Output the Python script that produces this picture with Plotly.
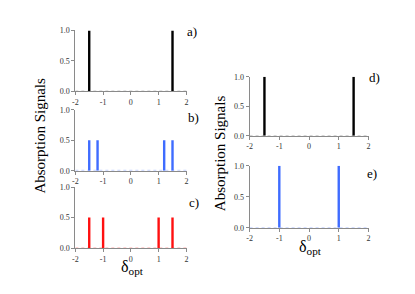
import plotly.graph_objects as go

# data
a_pos = [-1.5, 1.5]; a_h = [1.0, 1.0]
b_pos = [-1.5, -1.2, 1.2, 1.5]; b_h = [0.5, 0.5, 0.5, 0.5]
c_pos = [-1.5, -1.0, 1.0, 1.5]; c_h = [0.5, 0.5, 0.5, 0.5]
d_pos = [-1.5, 1.5]; d_h = [1.0, 1.0]
e_pos = [-1.0, 1.0]; e_h = [1.0, 1.0]
x_ticks = [-2, -1, 0, 1, 2]
y_ticks = [0.0, 0.5, 1.0]

OFF = 8  # page body margin
W, H = 415 - 2 * OFF, 294 - 2 * OFF
BLACK, BLUE, RED = "#000000", "#3f6cff", "#ff1010"
LIGHT = {BLACK: "#c8c8c8", BLUE: "#c4d2ff", RED: "#ffc4c4"}
FONT = "Liberation Serif"


def fx(px):
    return (px - OFF) / W


def fy(py):
    return 1 - (py - OFF) / H


panels = [
    ("a", a_pos, a_h, BLACK, (73, 186), (27, 90), "a)", (191, 28)),
    ("b", b_pos, b_h, BLUE, (73, 186), (109, 172), "b)", (192, 117)),
    ("c", c_pos, c_h, RED, (73, 186), (189, 252), "c)", (193, 205)),
    ("d", d_pos, d_h, BLACK, (249, 370), (75, 136), "d)", (375, 76)),
    ("e", e_pos, e_h, BLUE, (249, 370), (167, 231), "e)", (373, 175)),
]

fig = go.Figure()
annotations = []
for i, (name, pos, hts, col, xd, yd, lab, lp) in enumerate(panels):
    n = "" if i == 0 else str(i + 1)
    xa, ya = "x" + n, "y" + n
    fig.add_trace(go.Scatter(x=[-2, 2], y=[0.004, 0.004], mode="lines",
                             line=dict(color=LIGHT[col], width=1.2, dash="dot"),
                             xaxis=xa, yaxis=ya, showlegend=False, hoverinfo="skip"))
    xs, ys = [], []
    for p, h in zip(pos, hts):
        xs += [p, p, None]
        ys += [0, h, None]
    fig.add_trace(go.Scatter(x=xs, y=ys, mode="lines", line=dict(color=col, width=2.4),
                             xaxis=xa, yaxis=ya, showlegend=False))
    axx = dict(domain=[fx(xd[0]), fx(xd[1])], range=[-2, 2.03], tickvals=x_ticks,
               ticktext=[str(t) for t in x_ticks], showline=True, linecolor="#8a8a8a",
               linewidth=1, ticks="outside", ticklen=3, tickcolor="#8a8a8a",
               showgrid=False, zeroline=False, anchor=ya,
               tickfont=dict(family=FONT, size=8, color="#333"))
    axy = dict(domain=[fy(yd[1]), fy(yd[0])], range=[0, 1.0], tickvals=y_ticks,
               ticktext=["0.0", "0.5", "1.0"], showline=True, linecolor="#8a8a8a",
               linewidth=1, ticks="outside", ticklen=3, tickcolor="#8a8a8a",
               showgrid=False, zeroline=False, anchor=xa,
               tickfont=dict(family=FONT, size=8, color="#333"))
    fig.update_layout(**{"xaxis" + n: axx, "yaxis" + n: axy})
    annotations.append(dict(text=lab, x=fx(lp[0]), y=fy(lp[1]), xref="paper", yref="paper",
                            showarrow=False, xanchor="center", yanchor="middle",
                            font=dict(family=FONT, size=13, color="#000")))

common = dict(xref="paper", yref="paper", showarrow=False, xanchor="center", yanchor="middle")
annotations += [
    dict(text="Absorption Signals", x=fx(37), y=fy(136), textangle=-90,
         font=dict(family=FONT, size=15, color="#000"), **common),
    dict(text="Absorption Signals", x=fx(219), y=fy(154), textangle=-90,
         font=dict(family=FONT, size=15, color="#000"), **common),
    dict(text="δ<sub>opt</sub>", x=fx(131), y=fy(272),
         font=dict(family=FONT, size=16, color="#000"), **common),
    dict(text="δ<sub>opt</sub>", x=fx(311), y=fy(251),
         font=dict(family=FONT, size=16, color="#000"), **common),
]

fig.update_layout(width=W, height=H, margin=dict(l=0, r=0, t=0, b=0),
                  paper_bgcolor="white", plot_bgcolor="white",
                  annotations=annotations, showlegend=False)
fig.write_html("out.html")
